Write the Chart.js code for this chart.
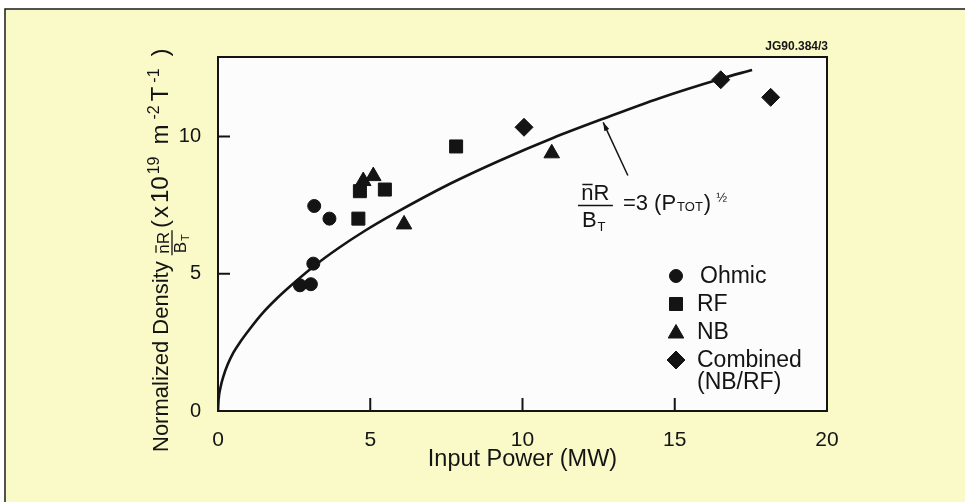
<!DOCTYPE html>
<html>
<head>
<meta charset="utf-8">
<script src="https://cdn.jsdelivr.net/npm/chart.js@4.4.1/dist/chart.umd.min.js"></script>
<style>
  html, body { margin: 0; padding: 0; background: #ffffff; }
  #wrap { width: 965px; height: 504px; }
</style>
</head>
<body>
<div id="wrap"><canvas id="c" width="965" height="504"></canvas></div>
<script>
// ---------------- data ----------------
const xTickValues = [0, 5, 10, 15, 20];
const yTickValues = [0, 5, 10];

const ohmicPower = [3.16, 3.66, 3.13, 2.69, 3.05];
const ohmicDensity = [7.47, 7.01, 5.37, 4.58, 4.62];

const rfPower = [4.61, 4.66, 5.48, 7.82];
const rfDensity = [7.01, 8.01, 8.07, 9.64];

const nbPower = [4.77, 5.10, 6.11, 10.96];
const nbDensity = [8.38, 8.56, 6.80, 9.39];

const combinedPower = [10.05, 16.51, 18.15];
const combinedDensity = [10.34, 12.07, 11.43];

// fitted curve nR/BT = 3 (Ptot)^1/2
const fitPower = [0, 0.02, 0.08, 0.18, 0.32, 0.5, 0.75, 1.05, 1.45, 1.93, 2.53, 3.2, 3.95, 4.8, 5.8, 7.62, 9.26, 11, 12.65, 14.5, 16.49, 17.54];
const fitDensity = [0, 0.42, 0.85, 1.27, 1.7, 2.12, 2.55, 3.0, 3.55, 4.1, 4.7, 5.32, 5.93, 6.55, 7.2, 8.28, 9.13, 9.95, 10.65, 11.4, 12.1, 12.43];

const legendLabels = ['Ohmic', 'RF', 'NB', 'Combined', '(NB/RF)'];
const xTitle = 'Input Power (MW)';
const figureId = 'JG90.384/3';

// ---------------- helpers ----------------
const FAM = "'Liberation Sans', Arial, Helvetica, sans-serif";
const INK = '#141414';
const pts = (xs, ys) => xs.map((x, i) => ({x: x, y: ys[i]}));

function marker(ctx, style, r, x, y) {
  if (Chart.helpers && Chart.helpers.drawPoint) {
    ctx.fillStyle = INK; ctx.strokeStyle = INK; ctx.lineWidth = 1;
    Chart.helpers.drawPoint(ctx, {pointStyle: style, radius: r, rotation: 0, borderWidth: 1}, x, y);
  }
}

const framePlugin = {
  id: 'frame',
  beforeDraw(chart) {
    const ctx = chart.ctx, a = chart.chartArea;
    ctx.save();
    ctx.fillStyle = '#ffffff';
    ctx.fillRect(0, 0, chart.width, chart.height);
    ctx.fillStyle = '#fafac9';
    ctx.fillRect(5, 9, chart.width - 5, 493);
    ctx.strokeStyle = '#1a1a1a';
    ctx.lineWidth = 1.5;
    ctx.beginPath();
    ctx.moveTo(5, 502); ctx.lineTo(5, 9); ctx.lineTo(chart.width, 9);
    ctx.stroke();
    ctx.fillStyle = '#fcfcfc';
    ctx.fillRect(a.left, a.top, a.right - a.left, a.bottom - a.top);
    ctx.restore();
  },
  afterDraw(chart) {
    const ctx = chart.ctx, a = chart.chartArea;
    const xs = chart.scales.x, ys = chart.scales.y;
    ctx.save();
    ctx.strokeStyle = INK;
    ctx.lineWidth = 2;
    ctx.strokeRect(a.left, a.top, a.right - a.left, a.bottom - a.top);
    // inward tick marks
    ctx.beginPath();
    xTickValues.forEach(v => {
      const px = xs.getPixelForValue(v);
      ctx.moveTo(px, a.bottom); ctx.lineTo(px, a.bottom - 13);
    });
    yTickValues.forEach(v => {
      const py = ys.getPixelForValue(v);
      ctx.moveTo(a.left, py); ctx.lineTo(a.left + 12, py);
    });
    ctx.stroke();

    // figure id
    ctx.fillStyle = INK;
    ctx.font = 'bold 12px ' + FAM;
    ctx.textAlign = 'right';
    ctx.textBaseline = 'alphabetic';
    ctx.fillText(figureId, a.right + 1, 50);

    // legend
    const lx = a.left + 458, ly = 276, step = 28;
    const styles = ['circle', 'rect', 'triangle', 'rectRot'];
    const radii = [6.5, 9.2, 9, 9];
    ctx.font = '23px ' + FAM;
    ctx.textAlign = 'left';
    ctx.textBaseline = 'middle';
    styles.forEach((s, i) => {
      marker(ctx, s, radii[i], lx, ly + i * step + (s === 'triangle' ? 1.5 : 0));
      ctx.fillStyle = INK;
      ctx.fillText(legendLabels[i], lx + (i === 0 ? 24 : 21), ly + i * step + 1);
    });
    ctx.fillText(legendLabels[4], lx + 21, ly + 4 * step - 5);

    // annotation formula  n̄R / B_T = 3 (P_TOT)^1/2
    const ax = xs.getPixelForValue(11.82), ay = ys.getPixelForValue(7.49);
    ctx.textBaseline = 'alphabetic';
    ctx.font = '22px ' + FAM;
    const nW = ctx.measureText('n').width, nrW = ctx.measureText('nR').width;
    const barW = 35;
    const nx = ax + (barW - nrW) / 2;
    ctx.fillText('nR', nx, ay - 5);
    ctx.lineWidth = 1.5;
    ctx.beginPath();
    ctx.moveTo(nx + 1, ay - 21); ctx.lineTo(nx + nW - 1, ay - 21);
    ctx.moveTo(ax, ay); ctx.lineTo(ax + barW, ay);
    ctx.stroke();
    ctx.fillText('B', ax + 4, ay + 22);
    const bW = ctx.measureText('B').width;
    ctx.font = '13px ' + FAM;
    ctx.fillText('T', ax + 4 + bW + 1, ay + 26);
    let tx = ax + barW + 10;
    const ty = ay + 5;
    ctx.font = '22px ' + FAM;
    ctx.fillText('=3 (P', tx, ty); tx += ctx.measureText('=3 (P').width + 1;
    ctx.font = '13px ' + FAM;
    ctx.fillText('TOT', tx, ty + 1); tx += ctx.measureText('TOT').width + 1;
    ctx.font = '22px ' + FAM;
    ctx.fillText(')', tx, ty); tx += ctx.measureText(')').width + 5;
    ctx.font = '13px ' + FAM;
    ctx.fillText('\u00BD', tx, ty - 8);

    // arrow
    const sx = xs.getPixelForValue(13.46), sy = ys.getPixelForValue(8.58);
    const ex = xs.getPixelForValue(12.65), ey = ys.getPixelForValue(10.52);
    ctx.lineWidth = 1.5;
    ctx.beginPath(); ctx.moveTo(sx, sy); ctx.lineTo(ex, ey); ctx.stroke();
    const ang = Math.atan2(ey - sy, ex - sx);
    ctx.beginPath();
    ctx.moveTo(ex, ey);
    ctx.lineTo(ex - 9 * Math.cos(ang - 0.3), ey - 9 * Math.sin(ang - 0.3));
    ctx.lineTo(ex - 9 * Math.cos(ang + 0.3), ey - 9 * Math.sin(ang + 0.3));
    ctx.closePath(); ctx.fill();

    // y-axis title (rotated)
    ctx.translate(168, 452);
    ctx.rotate(-Math.PI / 2);
    let u = 0;
    const put = (t, size, v, gap) => {
      ctx.font = size + 'px ' + FAM;
      ctx.fillText(t, u, v);
      const w = ctx.measureText(t).width;
      u += w + (gap || 0);
      return w;
    };
    put('Normalized Density', 22, 0);
    u += 6;
    // fraction
    ctx.font = '17px ' + FAM;
    const fnW = ctx.measureText('n').width, fnrW = ctx.measureText('nR').width;
    const fbW = 25;
    const fu = u;
    ctx.fillText('nR', fu + (fbW - fnrW) / 2, 1);
    ctx.lineWidth = 1.3;
    ctx.beginPath();
    ctx.moveTo(fu + (fbW - fnrW) / 2 + 1, -12); ctx.lineTo(fu + (fbW - fnrW) / 2 + fnW - 1, -12);
    ctx.moveTo(fu, 4); ctx.lineTo(fu + fbW, 4);
    ctx.stroke();
    ctx.fillText('B', fu + 2, 18);
    const fB = ctx.measureText('B').width;
    ctx.font = '11px ' + FAM;
    ctx.fillText('T', fu + 2 + fB + 1, 21);
    u = 452 - 228;
    put('(', 24, 0, 2);
    put('x', 24, 0, 3);
    put('10', 24, 0, 2);
    put('19', 16, -9, 12);
    put('m', 24, 0, 5);
    put('-2', 16, -9, 4);
    put('T', 24, 0, 4);
    put('-1', 16, -9, 12);
    put(')', 24, 0);
    ctx.restore();
  }
};

const ctx = document.getElementById('c').getContext('2d');
Chart.defaults.font.family = FAM;
Chart.defaults.color = INK;

new Chart(ctx, {
  type: 'scatter',
  data: {
    datasets: [
      { label: 'fit', data: pts(fitPower, fitDensity), showLine: true, borderColor: INK, borderWidth: 2.6,
        pointRadius: 0, cubicInterpolationMode: 'monotone', fill: false, order: 2 },
      { label: 'Ohmic', data: pts(ohmicPower, ohmicDensity), pointStyle: 'circle', pointRadius: 6.5,
        backgroundColor: INK, borderColor: INK, borderWidth: 1, order: 1 },
      { label: 'RF', data: pts(rfPower, rfDensity), pointStyle: 'rect', pointRadius: 9.2,
        backgroundColor: INK, borderColor: INK, borderWidth: 1, order: 1 },
      { label: 'NB', data: pts(nbPower, nbDensity), pointStyle: 'triangle', pointRadius: 9,
        backgroundColor: INK, borderColor: INK, borderWidth: 1, order: 1 },
      { label: 'Combined (NB/RF)', data: pts(combinedPower, combinedDensity), pointStyle: 'rectRot', pointRadius: 9,
        backgroundColor: INK, borderColor: INK, borderWidth: 1, order: 1 }
    ]
  },
  options: {
    responsive: false,
    animation: false,
    devicePixelRatio: 1,
    layout: { padding: { top: 57, right: 138, left: 0, bottom: 0 } },
    plugins: { legend: { display: false }, tooltip: { enabled: false } },
    scales: {
      x: {
        type: 'linear', min: 0, max: 20,
        afterBuildTicks: s => { s.ticks = xTickValues.map(v => ({value: v})); },
        ticks: { font: { size: 21 }, color: INK, padding: 9, maxRotation: 0 },
        grid: { display: false }, border: { display: false },
        title: { display: true, text: xTitle, font: { size: 23.5 }, color: INK, padding: { top: 0, bottom: 30 } },
        afterFit: s => { s.height = 93; }
      },
      y: {
        type: 'linear', min: 0, max: 12.9,
        afterBuildTicks: s => { s.ticks = yTickValues.map(v => ({value: v})); },
        ticks: { font: { size: 20 }, color: INK, padding: 9 },
        grid: { display: false }, border: { display: false },
        afterFit: s => { s.width = 218; }
      }
    }
  },
  plugins: [framePlugin]
});
</script>
</body>
</html>
